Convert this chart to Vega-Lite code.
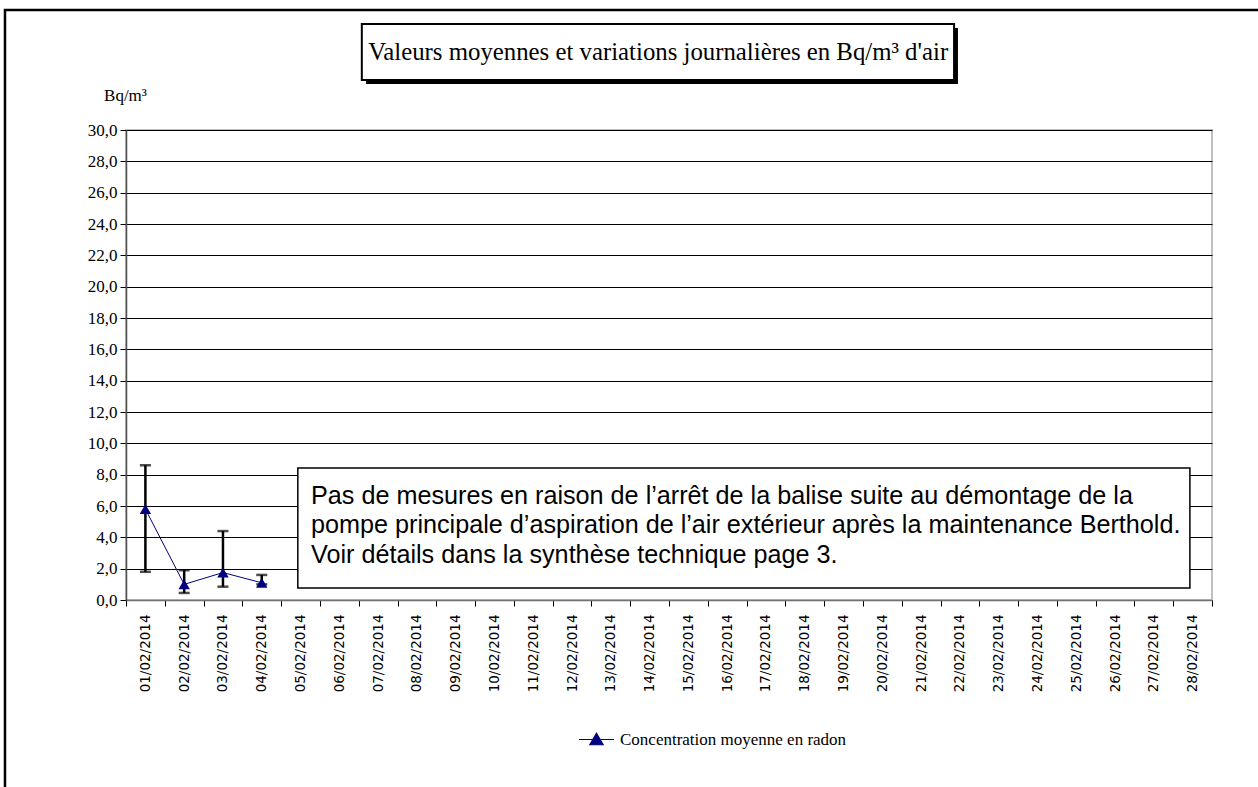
{
  "$schema": "https://vega.github.io/schema/vega-lite/v6.json",
  "width": 1086,
  "height": 470,
  "autosize": {"type": "none"},
  "padding": {"left": 126, "top": 130, "right": 46, "bottom": 187},
  "background": "white",
  "config": {
    "view": {"stroke": "#c0c0c0", "strokeWidth": 2},
    "font": "Liberation Serif"
  },
  "resolve": {
    "scale": {"x": "independent", "y": "independent"},
    "axis": {"x": "independent", "y": "independent"}
  },
  "layer": [
    {
      "data": {
        "values": [
          {"date": "01/02/2014", "moyenne": 5.8, "min": 1.8, "max": 8.6, "serie": "Concentration moyenne en radon"},
          {"date": "02/02/2014", "moyenne": 1.0, "min": 0.45, "max": 1.9, "serie": "Concentration moyenne en radon"},
          {"date": "03/02/2014", "moyenne": 1.75, "min": 0.85, "max": 4.4, "serie": "Concentration moyenne en radon"},
          {"date": "04/02/2014", "moyenne": 1.1, "min": 1.0, "max": 1.6, "serie": "Concentration moyenne en radon"}
        ]
      },
      "encoding": {
        "x": {
          "field": "date",
          "type": "ordinal",
          "title": null,
          "scale": {
            "domain": ["01/02/2014", "02/02/2014", "03/02/2014", "04/02/2014", "05/02/2014", "06/02/2014", "07/02/2014", "08/02/2014", "09/02/2014", "10/02/2014", "11/02/2014", "12/02/2014", "13/02/2014", "14/02/2014", "15/02/2014", "16/02/2014", "17/02/2014", "18/02/2014", "19/02/2014", "20/02/2014", "21/02/2014", "22/02/2014", "23/02/2014", "24/02/2014", "25/02/2014", "26/02/2014", "27/02/2014", "28/02/2014"],
            "paddingInner": 0,
            "paddingOuter": 0
          },
          "axis": {
            "tickBand": "extent",
            "labelAngle": 270,
            "labelFont": "DejaVu Sans",
            "labelFontSize": 13.5,
            "labelColor": "black",
            "labelPadding": 8,
            "labelOverlap": false,
            "tickSize": 6,
            "tickColor": "black",
            "domainColor": "#707070",
            "domainWidth": 1.5,
            "grid": false,
            "title": null
          }
        }
      },
      "layer": [
        {
          "mark": {"type": "rule", "color": "black", "strokeWidth": 2.5},
          "encoding": {
            "y": {
              "field": "min",
              "type": "quantitative",
              "title": "Bq/m³",
              "scale": {"domain": [0, 30], "nice": false, "zero": false},
              "axis": {
                "tickCount": 15,
                "labelExpr": "replace(format(datum.value, '.1f'), '.', ',')",
                "labelFont": "Liberation Serif",
                "labelFontSize": 17,
                "labelColor": "black",
                "labelPadding": 3,
                "tickSize": 6,
                "tickColor": "black",
                "domainColor": "#505050",
                "domainWidth": 1.5,
                "grid": true,
                "gridColor": "black",
                "gridWidth": 1,
                "title": "Bq/m³",
                "titleAngle": 0,
                "titleAlign": "center",
                "titleBaseline": "alphabetic",
                "titleFont": "Liberation Serif",
                "titleFontSize": 17,
                "titleFontWeight": "normal",
                "titleColor": "black",
                "titleX": -1,
                "titleY": -30
              }
            },
            "y2": {"field": "max"}
          }
        },
        {
          "mark": {"type": "tick", "color": "black", "thickness": 2.5, "size": 11},
          "encoding": {"y": {"field": "max", "type": "quantitative", "title": "Bq/m³"}}
        },
        {
          "mark": {"type": "tick", "color": "black", "thickness": 2.5, "size": 11},
          "encoding": {"y": {"field": "min", "type": "quantitative", "title": "Bq/m³"}}
        },
        {
          "mark": {"type": "line", "strokeWidth": 1},
          "encoding": {
            "y": {"field": "moyenne", "type": "quantitative", "title": "Bq/m³"},
            "color": {
              "field": "serie",
              "type": "nominal",
              "scale": {"range": ["#000080"]},
              "legend": {
                "title": null,
                "orient": "none",
                "legendX": 452,
                "legendY": 591,
                "padding": 0,
                "symbolType": "M-1,0L1,0M0,-0.36L0.38,0.3L-0.38,0.3Z",
                "symbolSize": 1225,
                "labelFont": "Liberation Serif",
                "labelFontSize": 17,
                "labelColor": "black",
                "labelOffset": 5,
                "labelLimit": 500,
                "encode": {
                  "symbols": {
                    "update": {
                      "fill": {"value": "#000080"},
                      "stroke": {"value": "#000080"},
                      "strokeWidth": {"value": 1.2},
                      "opacity": {"value": 1}
                    }
                  }
                }
              }
            }
          }
        },
        {
          "mark": {"type": "point", "shape": "triangle-up", "filled": true, "size": 130, "opacity": 1},
          "encoding": {
            "y": {"field": "moyenne", "type": "quantitative", "title": "Bq/m³"},
            "color": {
              "field": "serie",
              "type": "nominal",
              "scale": {"range": ["#000080"]},
              "legend": {
                "title": null,
                "orient": "none",
                "legendX": 452,
                "legendY": 591,
                "padding": 0,
                "symbolType": "M-1,0L1,0M0,-0.36L0.38,0.3L-0.38,0.3Z",
                "symbolSize": 1225,
                "labelFont": "Liberation Serif",
                "labelFontSize": 17,
                "labelColor": "black",
                "labelOffset": 5,
                "labelLimit": 500,
                "encode": {
                  "symbols": {
                    "update": {
                      "fill": {"value": "#000080"},
                      "stroke": {"value": "#000080"},
                      "strokeWidth": {"value": 1.2},
                      "opacity": {"value": 1}
                    }
                  }
                }
              }
            }
          }
        }
      ]
    },
    {
      "encoding": {
        "x": {"field": "x0", "type": "quantitative", "scale": {"domain": [0, 28], "nice": false, "zero": false}, "axis": null},
        "y": {"field": "y0", "type": "quantitative", "scale": {"domain": [0, 30], "nice": false, "zero": false}, "axis": null}
      },
      "layer": [
        {
          "data": {"values": [{"x0": -3.12, "x1": 40, "y0": 37.66, "y1": -20}]},
          "mark": {"type": "rect", "fill": "white", "fillOpacity": 0, "stroke": "black", "strokeWidth": 2.5},
          "encoding": {"x2": {"field": "x1"}, "y2": {"field": "y1"}}
        },
        {
          "data": {"values": [{"x0": 6.19, "x1": 21.45, "y0": 36.51, "y1": 32.94}]},
          "mark": {"type": "rect", "fill": "black"},
          "encoding": {"x2": {"field": "x1"}, "y2": {"field": "y1"}}
        },
        {
          "data": {"values": [{"x0": 6.08, "x1": 21.35, "y0": 36.77, "y1": 33.19}]},
          "mark": {"type": "rect", "fill": "white", "stroke": "black", "strokeWidth": 2},
          "encoding": {"x2": {"field": "x1"}, "y2": {"field": "y1"}}
        },
        {
          "data": {"values": [{"x0": 13.72, "y0": 34.9, "label": "Valeurs moyennes et variations journalières en Bq/m³ d'air"}]},
          "mark": {"type": "text", "font": "Liberation Serif", "fontSize": 24.8, "align": "center", "baseline": "middle", "color": "black"},
          "encoding": {"text": {"field": "label"}}
        },
        {
          "data": {"values": [{"x0": 4.43, "x1": 27.43, "y0": 8.43, "y1": 0.77}]},
          "mark": {"type": "rect", "fill": "white", "stroke": "black", "strokeWidth": 1.5},
          "encoding": {"x2": {"field": "x1"}, "y2": {"field": "y1"}}
        },
        {
          "data": {
            "values": [
              {"x0": 4.77, "y0": 6.64, "label": "Pas de mesures en raison de l’arrêt de la balise suite au démontage de la"},
              {"x0": 4.77, "y0": 4.76, "label": "pompe principale d’aspiration de l’air extérieur après la maintenance Berthold."},
              {"x0": 4.77, "y0": 2.87, "label": "Voir détails dans la synthèse technique page 3."}
            ]
          },
          "mark": {"type": "text", "font": "Liberation Sans", "fontSize": 25.2, "align": "left", "baseline": "middle", "color": "black"},
          "encoding": {"text": {"field": "label"}}
        }
      ]
    }
  ]
}
